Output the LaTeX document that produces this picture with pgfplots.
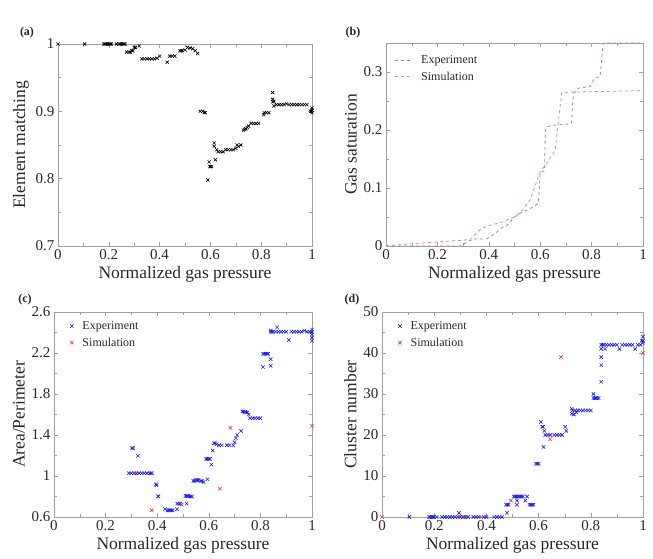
\documentclass[border=0pt]{standalone}
\usepackage{pgfplots}
\pgfplotsset{compat=1.18}
\usepackage{fontspec}
\setmainfont{Liberation Serif}
\definecolor{txt}{RGB}{40,40,40}
\definecolor{axc}{RGB}{160,160,160}
\definecolor{mblue}{RGB}{30,30,240}
\definecolor{mred}{RGB}{235,50,50}
\pgfplotsset{
  base/.style={
    scale only axis,
    axis line style={axc},
    every tick/.style={axc},
    tick align=inside,
    minor tick num=1,
    xmin=0, xmax=1,
    xtick={0,0.2,0.4,0.6,0.8,1},
    xticklabels={0,0.2,0.4,0.6,0.8,1},
    tick label style={font=\fontsize{15}{15}\selectfont, text=txt},
    label style={font=\fontsize{17.5}{18}\selectfont, text=txt},
    xlabel={Normalized gas pressure},
    /pgf/number format/assume math mode=true,
    clip=false,
  },
  leg/.style={legend style={draw=none, fill=none, at={#1}, anchor=north west,
    font=\fontsize{12}{13}\selectfont, text=txt, row sep=3pt,
    /tikz/every odd column/.append style={column sep=7pt}},
    legend cell align=left},
  expmark/.style={only marks, mark=x, mark size=2.4pt, mark options={line width=0.6pt}},
}
\begin{document}
\begin{tikzpicture}
\path[use as bounding box] (0pt,0pt) rectangle (653pt,558pt);
% (a)
\begin{axis}[base, at={(58pt,312pt)}, anchor=south west, width=254pt, height=202pt,
  ymin=0.7, ymax=1, ytick={0.7,0.8,0.9,1}, yticklabels={0.7,0.8,0.9,1},
  ylabel={Element matching}]
\addplot[expmark, black, mark size=2.2pt] coordinates {
(0,1)(0.105,1)(0.18,1)(0.185,1)(0.19,1)(0.195,1)(0.2,1)(0.205,1)(0.21,1)
(0.23,1)(0.24,1)(0.245,1)(0.25,1)(0.255,1)(0.26,1)(0.265,1)
(0.27,0.988)(0.28,0.988)(0.285,0.988)(0.29,0.99)(0.295,0.99)(0.3,0.995)(0.305,0.995)(0.32,0.997)
(0.33,0.978)(0.34,0.978)(0.35,0.978)(0.36,0.978)(0.37,0.978)(0.38,0.978)(0.39,0.979)(0.4,0.982)
(0.43,0.973)(0.44,0.982)(0.45,0.982)(0.46,0.982)
(0.48,0.99)(0.485,0.99)(0.49,0.99)(0.5,0.991)
(0.51,0.995)(0.52,0.994)(0.53,0.993)(0.54,0.99)(0.55,0.986)
(0.56,0.9)(0.57,0.9)(0.575,0.898)(0.58,0.898)
(0.59,0.798)(0.595,0.825)(0.598,0.818)(0.6,0.818)(0.605,0.818)
(0.615,0.853)(0.615,0.848)(0.62,0.828)(0.625,0.843)(0.63,0.84)(0.64,0.84)(0.65,0.84)
(0.66,0.843)(0.67,0.843)(0.68,0.843)(0.69,0.843)(0.7,0.845)(0.705,0.85)(0.71,0.848)(0.72,0.85)
(0.73,0.872)(0.735,0.873)(0.74,0.874)(0.745,0.876)(0.75,0.878)(0.76,0.882)(0.77,0.882)(0.78,0.882)(0.79,0.882)
(0.81,0.895)(0.812,0.898)(0.82,0.898)(0.83,0.898)
(0.845,0.928)(0.845,0.918)(0.845,0.914)(0.85,0.915)(0.85,0.908)
(0.86,0.91)(0.87,0.91)(0.88,0.91)(0.89,0.91)(0.9,0.911)(0.91,0.91)(0.92,0.91)(0.93,0.91)(0.94,0.91)(0.95,0.91)(0.96,0.91)(0.97,0.91)(0.98,0.91)
(0.995,0.9)(1,0.898)(1,0.902)(1,0.905)(0.998,0.9)
};
\end{axis}
\node[font=\bfseries\fontsize{12}{12}\selectfont, text=txt] at (27pt,525pt) {(a)};
% (b)
\begin{axis}[base, at={(386pt,312pt)}, anchor=south west, width=257pt, height=203pt,
  ymin=0, ymax=0.35, ytick={0,0.1,0.2,0.3}, yticklabels={0,0.1,0.2,0.3},
  ylabel={Gas saturation}, leg={(0.02,0.96)}]
\addplot[color=mblue!55, dashed, line width=0.8pt] coordinates {
(0,0)(0.29,0)(0.32,0.008)(0.34,0.012)(0.39,0.012)(0.42,0.02)(0.45,0.031)(0.47,0.035)
(0.5,0.05)(0.52,0.056)(0.55,0.062)(0.575,0.068)(0.593,0.074)(0.6,0.126)(0.617,0.13)
(0.62,0.2)(0.625,0.205)(0.645,0.208)(0.703,0.21)(0.722,0.212)(0.725,0.24)(0.73,0.263)
(0.748,0.272)(0.794,0.275)(0.813,0.29)(0.833,0.292)(0.845,0.35)(1,0.35)};
\addlegendentry{Experiment}
\addplot[color=mred!60, dashed, line width=0.8pt] coordinates {
(0,0)(0.1,0.004)(0.2,0.007)(0.3,0.01)(0.33,0.012)(0.37,0.03)(0.4,0.035)(0.45,0.041)
(0.5,0.05)(0.52,0.057)(0.56,0.079)(0.6,0.128)(0.626,0.143)(0.658,0.165)(0.684,0.265)
(0.8,0.266)(1,0.268)};
\addlegendentry{Simulation}
\end{axis}
\node[font=\bfseries\fontsize{12}{12}\selectfont, text=txt] at (353pt,525pt) {(b)};
% (c)
\begin{axis}[base, at={(54pt,41pt)}, anchor=south west, width=258pt, height=205pt,
  ymin=0.6, ymax=2.6, ytick={0.6,1,1.4,1.8,2.2,2.6}, yticklabels={0.6,1,1.4,1.8,2.2,2.6},
  ylabel={Area/Perimeter}, leg={(0.05,0.975)}]
\addplot[expmark, mblue] coordinates {
(0.29,1.027)(0.3,1.027)(0.31,1.027)(0.32,1.027)(0.33,1.027)(0.34,1.027)(0.35,1.027)(0.36,1.027)(0.37,1.027)(0.375,1.027)(0.38,1.027)
(0.303,1.274)(0.307,1.27)(0.325,1.196)(0.395,0.919)(0.397,0.91)(0.403,0.802)(0.405,0.8)
(0.43,0.678)(0.44,0.665)(0.445,0.665)(0.45,0.665)(0.455,0.665)(0.46,0.665)(0.477,0.675)
(0.478,0.73)(0.485,0.73)(0.49,0.73)(0.514,0.73)
(0.51,0.805)(0.515,0.805)(0.52,0.805)(0.525,0.8)(0.53,0.8)(0.535,0.8)
(0.54,0.952)(0.545,0.952)(0.55,0.96)(0.555,0.96)(0.56,0.96)(0.57,0.952)(0.575,0.95)(0.58,0.94)(0.595,0.968)
(0.59,1.167)(0.595,1.167)(0.6,1.167)(0.605,1.167)(0.61,1.111)(0.615,1.248)
(0.62,1.32)(0.625,1.32)(0.63,1.31)(0.64,1.3)(0.65,1.3)(0.67,1.3)(0.68,1.3)(0.695,1.3)
(0.7,1.33)(0.705,1.37)(0.71,1.4)(0.725,1.44)
(0.73,1.63)(0.735,1.63)(0.74,1.625)(0.745,1.62)(0.75,1.62)(0.755,1.6)
(0.76,1.564)(0.77,1.564)(0.78,1.564)(0.79,1.564)(0.8,1.564)
(0.81,2.063)(0.81,2.193)(0.815,2.193)(0.82,2.193)(0.825,2.193)(0.83,2.193)(0.84,2.14)(0.84,2.075)
(0.84,2.408)(0.84,2.42)(0.845,2.408)(0.85,2.408)(0.86,2.408)(0.865,2.45)(0.87,2.408)(0.88,2.408)(0.89,2.408)(0.9,2.408)
(0.91,2.326)(0.92,2.408)(0.93,2.408)(0.94,2.408)(0.95,2.408)(0.96,2.408)(0.97,2.42)(0.98,2.408)(0.99,2.408)
(1,2.408)(1,2.43)(1,2.38)(1,2.35)(1,2.32)(0.998,2.4)};
\addlegendentry{Experiment}
\addplot[expmark, mred] coordinates {
(0.315,1.027)(0.379,0.665)(0.495,0.72)(0.643,0.877)(0.684,1.47)(1,1.49)};
\addlegendentry{Simulation}
\end{axis}
\node[font=\bfseries\fontsize{12}{12}\selectfont, text=txt] at (25pt,258pt) {(c)};
% (d)
\begin{axis}[base, at={(382pt,41pt)}, anchor=south west, width=261pt, height=205pt,
  ymin=0, ymax=50, ytick={0,10,20,30,40,50},
  ylabel={Cluster number}, leg={(0.05,0.975)}]
\addplot[expmark, mblue] coordinates {
(0.105,0)(0.18,0)(0.185,0)(0.19,0)(0.195,0)(0.2,0)(0.21,0)
(0.23,0)(0.24,0)(0.25,0)(0.26,0)(0.27,0)(0.28,0)(0.29,0)(0.3,0)(0.31,0)(0.32,0)(0.33,0)(0.295,1)
(0.35,0)(0.36,0)(0.37,0)(0.39,0)(0.4,0)
(0.43,0)(0.44,0)(0.45,0)(0.46,0)
(0.479,1.05)(0.475,3)(0.48,3)(0.485,3)
(0.505,5)(0.51,5)(0.515,5)(0.52,5)(0.525,5)(0.53,5)(0.535,5)(0.54,5)(0.556,5)(0.517,4)(0.517,3)(0.549,4)
(0.565,3)(0.57,3)(0.575,3)(0.58,3)
(0.59,13)(0.595,13)(0.6,13)
(0.609,23.2)(0.614,22)(0.617,22)(0.619,17.1)(0.622,21)
(0.626,20)(0.635,20)(0.645,20)(0.66,20)(0.67,20)(0.68,20)(0.69,20)(0.702,22)(0.706,21)
(0.727,26.4)(0.727,25.2)(0.73,26)(0.735,25)(0.74,26)(0.745,25.5)(0.75,26)(0.76,26)(0.77,26)(0.78,26)(0.79,26)(0.8,26)
(0.81,30)(0.81,29)(0.815,29)(0.82,29)(0.825,29)(0.83,29)
(0.84,33)(0.84,37)(0.84,39)(0.84,41)(0.84,42)
(0.845,42)(0.85,42)(0.855,41)(0.86,42)(0.87,42)(0.88,42)(0.89,42)(0.9,42)(0.91,41)(0.92,42)(0.93,42)(0.94,42)(0.95,42)(0.96,42)(0.97,41)(0.98,42)(0.99,42)
(1,44)(1,43)(1,42.5)(0.995,43)};
\addlegendentry{Experiment}
\addplot[expmark, mred] coordinates {
(0,0)(0.315,0)(0.38,0)(0.494,4)(0.644,19)(0.686,39)(1,40)};
\addlegendentry{Simulation}
\end{axis}
\node[font=\bfseries\fontsize{12}{12}\selectfont, text=txt] at (352pt,258pt) {(d)};
\end{tikzpicture}
\end{document}
